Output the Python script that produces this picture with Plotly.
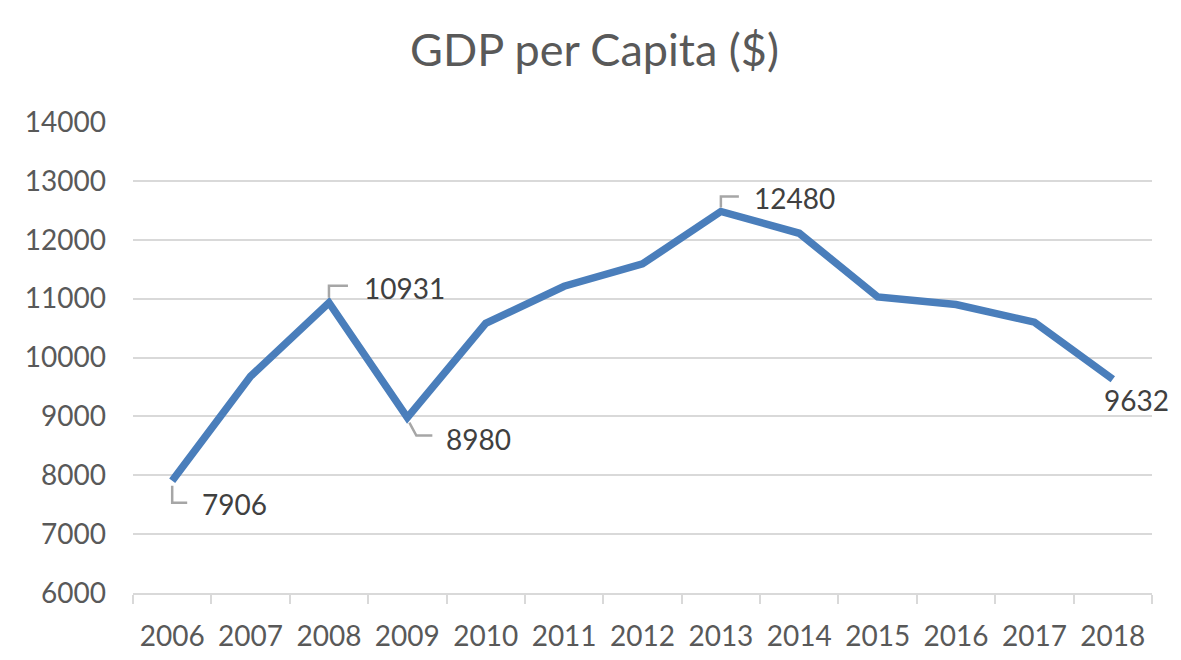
import plotly.graph_objects as go

years = ["2006", "2007", "2008", "2009", "2010", "2011", "2012",
         "2013", "2014", "2015", "2016", "2017", "2018"]
gdp = [7906, 9680, 10931, 8980, 10580, 11210, 11590,
       12480, 12110, 11030, 10900, 10600, 9632]
y_ticks = [6000, 7000, 8000, 9000, 10000, 11000, 12000, 13000, 14000]
labelled = ["2006", "2008", "2009", "2013", "2018"]

FONT = "Lato"
fig = go.Figure()
fig.add_trace(go.Scatter(
    x=years, y=gdp, mode="lines",
    line=dict(color="#4a7ebb", width=7.5),
    hoverinfo="x+y", showlegend=False,
))

# label placement (pixel offsets) and leader paths
place = {
    "2006": dict(xshift=28, yshift=-23, xanchor="left", path="M0,-5 L0,-22 L15,-22"),
    "2008": dict(xshift=33, yshift=15, xanchor="left", path="M0,5 L0,17 L19,17"),
    "2009": dict(xshift=37, yshift=-21, xanchor="left", path="M2,-5 L9,-18 L25,-18"),
    "2013": dict(xshift=31, yshift=13, xanchor="left", path="M0,4 L0,15 L18,15"),
    "2018": dict(xshift=24, yshift=-21, xanchor="center", path=None),
}
for yr in labelled:
    i = years.index(yr)
    v = gdp[i]
    p = place[yr]
    fig.add_annotation(x=i, y=v, text=str(v), showarrow=False,
                       xanchor=p["xanchor"], yanchor="middle",
                       xshift=p["xshift"], yshift=p["yshift"],
                       font=dict(family=FONT, size=28, color="#404040"))
    if p["path"]:
        fig.add_shape(type="path", xref="x", yref="y",
                      xsizemode="pixel", ysizemode="pixel",
                      xanchor=i, yanchor=v, path=p["path"],
                      line=dict(color="#a6a6a6", width=2.5), layer="above")

fig.update_layout(
    width=1173, height=652,
    margin=dict(l=125, r=29, t=114, b=67),
    paper_bgcolor="white", plot_bgcolor="white",
    title=dict(text="GDP per Capita ($)", x=0.5, xanchor="center",
               y=0.935, yanchor="middle",
               font=dict(family=FONT, size=45, color="#595959")),
    xaxis=dict(type="category", categoryorder="array", categoryarray=years,
               range=[-0.5, len(years) - 0.5],
               tickson="boundaries", ticks="outside",
               ticklen=9, tickwidth=2, tickcolor="#d9d9d9",
               showline=True, linecolor="#d9d9d9", linewidth=2,
               showgrid=False, ticklabelstandoff=17, tickangle=0,
               automargin=False,
               tickfont=dict(family=FONT, size=28, color="#595959")),
    yaxis=dict(range=[6000, 14000], tickvals=y_ticks,
               ticktext=[str(t) for t in y_ticks],
               showgrid=True, gridcolor="#d9d9d9", gridwidth=2,
               zeroline=False, showline=False, ticks="",
               ticklabelstandoff=26, automargin=False,
               tickfont=dict(family=FONT, size=28, color="#595959")),
)

fig.write_html("out.html")
